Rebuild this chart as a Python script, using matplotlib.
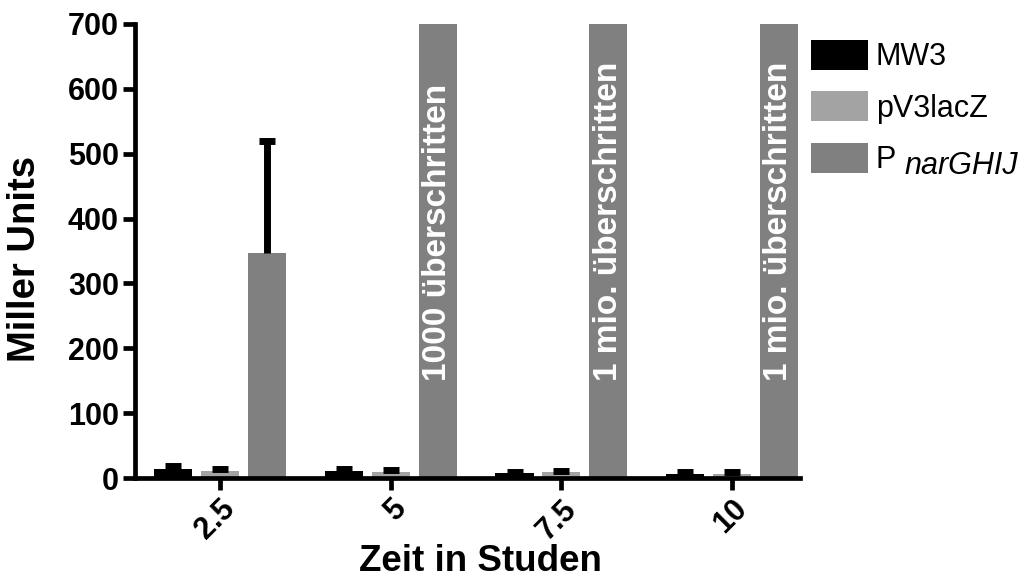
import numpy as np
import matplotlib
matplotlib.use("Agg")
import matplotlib.pyplot as plt

# Miller-Assay: beta-Galaktosidase-Aktivität über die Zeit
zeiten = ["2.5", "5", "7.5", "10"]
stamm_namen = ["MW3", "pV3lacZ", "P"]
farben = ["#000000", "#a3a3a3", "#808080"]

mw3_werte = [14, 11, 8, 7]
mw3_fehler = [4, 3, 2, 2]
pv3_werte = [11, 9, 9, 7]
pv3_fehler = [3, 3, 2, 2]
# Werte oberhalb der Achse: 1000 bzw. 1 Mio. überschritten
nar_werte = [347, 1000, 1e6, 1e6]
nar_fehler = [173, np.nan, np.nan, np.nan]
nar_hinweise = [None, "1000 überschritten", "1 mio. überschritten", "1 mio. überschritten"]

Y_MAX = 700
BREITE = 0.223
ABSTAND = 0.275

plt.rcParams["font.family"] = ["Liberation Sans", "DejaVu Sans"]

fig = plt.figure(figsize=(10.24, 5.83), dpi=100)
ax = fig.add_axes([0.1318, 0.180, 0.649, 0.779])

x = np.arange(len(zeiten))
serien = [(mw3_werte, mw3_fehler), (pv3_werte, pv3_fehler), (nar_werte, nar_fehler)]
for i, (werte, fehler) in enumerate(serien):
    pos = x + (i - 1) * ABSTAND
    werte = np.asarray(werte, dtype=float)
    fehler = np.asarray(fehler, dtype=float)
    ax.bar(pos, werte, width=BREITE, color=farben[i], label=stamm_namen[i], zorder=2)
    # nur nach oben: Linie ab Balkenende plus Querstrich am Ende
    ok = ~np.isnan(fehler)
    ax.vlines(pos[ok], werte[ok], werte[ok] + fehler[ok], color="black", lw=5, zorder=3)
    ax.plot(pos[ok], werte[ok] + fehler[ok], ls="none", marker="_", ms=11.5, mew=5,
            color="black", zorder=3)

for xi, hinweis in zip(x, nar_hinweise):
    if hinweis:
        ax.text(xi + ABSTAND, 150, hinweis, rotation=90, ha="center", va="bottom",
                color="white", fontsize=24, fontweight="bold", zorder=4)

ax.set_xlim(-0.5, 3.396)
ax.set_ylim(0, Y_MAX)
ax.set_yticks(np.arange(0, Y_MAX + 1, 100))
ax.set_xticks(x)
ax.set_xticklabels(zeiten, rotation=45, ha="right", rotation_mode="anchor")

for s in ["top", "right"]:
    ax.spines[s].set_visible(False)
for s in ["left", "bottom"]:
    ax.spines[s].set_linewidth(3.4)
ax.tick_params(axis="both", width=3.4, length=8.6, labelsize=22, pad=3)
for lbl in ax.get_xticklabels() + ax.get_yticklabels():
    lbl.set_fontweight("bold")

ax.set_ylabel("Miller Units", fontsize=27.5, fontweight="bold")
ax.set_xlabel("Zeit in Studen", fontsize=26.5, fontweight="bold")
ax.yaxis.set_label_coords(-0.138, 0.482)
ax.xaxis.set_label_coords(0.52, -0.145)

leg = ax.legend(loc="upper left", bbox_to_anchor=(0.792, 0.932), bbox_transform=fig.transFigure,
                frameon=False, fontsize=22, handlelength=1.86, handleheight=1.15,
                handletextpad=0.26, labelspacing=0.62, borderpad=0, borderaxespad=0)

# Index "narGHIJ" kursiv und tiefgestellt hinter dem "P"
fig.canvas.draw()
p_text = leg.get_texts()[2]
bb = p_text.get_window_extent(fig.canvas.get_renderer())
inv = fig.transFigure.inverted()
x0, y0 = inv.transform((bb.x1 + 8, bb.y0 - 6))
fig.text(x0, y0, "narGHIJ", fontsize=22, fontstyle="italic", ha="left", va="bottom")

fig.savefig("out.png", dpi=100)
